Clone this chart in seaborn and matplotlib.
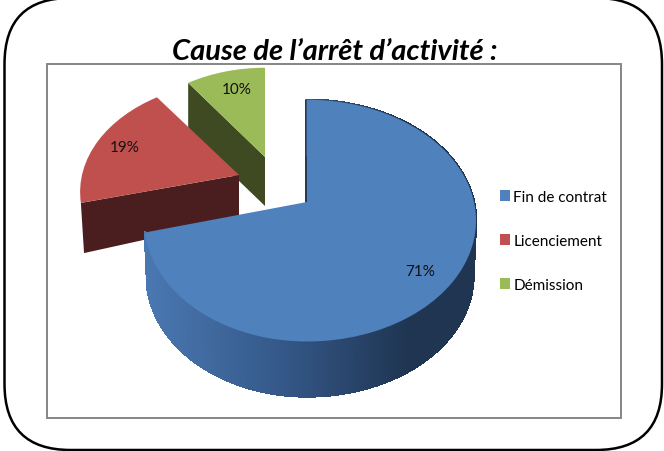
import numpy as np
import matplotlib
matplotlib.use('Agg')
import matplotlib.pyplot as plt
import seaborn as sns
from matplotlib.collections import PolyCollection
from matplotlib.colors import LinearSegmentedColormap
from matplotlib.patches import FancyBboxPatch, Rectangle
from matplotlib.transforms import Transform

# values of the chart
categories = ['Fin de contrat', 'Licenciement', 'Démission']
percents = [71, 19, 10]
title = 'Cause de l’arrêt d’activité :'

sns.set_theme(style='white')
plt.rcParams['font.family'] = ['Lato', 'DejaVu Sans']

top_colors = sns.color_palette(['#4f81bd', '#c0504d', '#9bbb59'])
side_colors = ['#1f3552', '#4a1e1e', '#3f4a22']
blue_side = LinearSegmentedColormap.from_list(
    'blue_side', [(0.0, '#4a78b2'), (0.4, '#35598a'), (0.8, '#1f3552'), (1.0, '#1f3552')])

# wedge geometry in pixels: apex, left/right radius, vertical radius, side depth, side scaling
shapes = [
    dict(apex=(307, 203), rx=(161, 167), ry=118, depth=55, sx=0.985, sy=1.0, z=6),
    dict(apex=(239, 176), rx=(157, 157), ry=108, depth=44, sx=0.98, sy=1.22, z=4),
    dict(apex=(265, 158), rx=(147, 147), ry=103, depth=49, sx=1.0, sy=1.0, z=2),
]
tilt = 0.154


class Perspective(Transform):
    input_dims = 2
    output_dims = 2
    is_separable = False

    def __init__(self, apex, rx, ry):
        super().__init__()
        self.apex, self.rx, self.ry = apex, rx, ry

    def transform_non_affine(self, pts):
        pts = np.asarray(pts, dtype=float)
        w = 1 + tilt * pts[:, 1]
        rx = np.where(pts[:, 0] < 0, self.rx[0], self.rx[1])
        return np.column_stack([self.apex[0] + rx * pts[:, 0] / w,
                                self.apex[1] - self.ry * pts[:, 1] / w])


def rim(per, angles):
    a = np.radians(angles)
    return per.transform_non_affine(np.column_stack([np.cos(a), np.sin(a)]))


def lower(pts, s):
    # same points on the bottom face of the slice
    ax0, ay0 = s['apex']
    return np.column_stack([ax0 + s['sx'] * (pts[:, 0] - ax0),
                            ay0 + s['depth'] + s['sy'] * (pts[:, 1] - ay0)])


fig = plt.figure(figsize=(6.64, 4.52), dpi=100)
ax = fig.add_axes([0, 0, 1, 1])

wedges, _ = ax.pie(percents, startangle=90, counterclock=False, colors=top_colors,
                   wedgeprops=dict(linewidth=0))
ax.set_aspect('auto')
ax.set_xlim(0, 664)
ax.set_ylim(452, 0)
ax.set_axis_off()

for i, wedge in enumerate(wedges):
    s = shapes[i]
    per = Perspective(s['apex'], s['rx'], s['ry'])
    wedge.set_transform(per + ax.transData)
    wedge.set_zorder(s['z'] + 1)

    # cut face along the end of the slice
    end = rim(per, [wedge.theta2])
    apex = np.array([s['apex']], dtype=float)
    if i == 0:
        ax.plot([apex[0, 0] - 1, end[0, 0] - 1], [apex[0, 1], end[0, 1]],
                color=side_colors[0], lw=1.4, zorder=s['z'])
        # outer wall with its gradient
        ang = np.linspace(wedge.theta1, wedge.theta2, 400)
        up = rim(per, ang)
        down = lower(up, s)
        quads = [np.vstack([up[j], up[j + 1], down[j + 1], down[j]]) for j in range(len(ang) - 1)]
        shade = blue_side((up[:-1, 0] - 145) / (476 - 145))
        ax.add_collection(PolyCollection(quads, facecolors=shade, edgecolors=shade,
                                         linewidths=1.0, antialiaseds=False, zorder=s['z']))
    else:
        face = np.vstack([apex, end, lower(end, s), lower(apex, s)])
        ax.fill(face[:, 0], face[:, 1], color=side_colors[i], lw=0, zorder=s['z'])

# percentages
label_pos = [(420, 272), (125, 148), (237, 90)]
for pct, (x, y) in zip(percents, label_pos):
    ax.text(x, y, f'{pct}%', ha='center', va='center', fontsize=11, color='#111111', zorder=10)

# grey chart frame and rounded outer frame
ax.add_patch(Rectangle((47, 65), 573.5, 353.5, fill=False, ec='#868686', lw=1.4, zorder=0.5))
ax.add_patch(FancyBboxPatch((4.5, -1), 657.5, 452, boxstyle='round,pad=0,rounding_size=66',
                            fill=False, ec='black', lw=1.8, clip_on=True, zorder=0.5))

ax.text(335, 52, title, ha='center', va='center', fontsize=21, fontweight='bold',
        fontstyle='italic', color='black', zorder=10)

ax.legend(wedges, categories, loc='upper left', bbox_to_anchor=(500 / 664, 1 - 191 / 452),
          frameon=False, fontsize=11, labelspacing=1.95, handlelength=0.68, handleheight=0.72,
          handletextpad=0.2, borderpad=0, borderaxespad=0, labelcolor='black')

plt.savefig('out.png', dpi=100)
